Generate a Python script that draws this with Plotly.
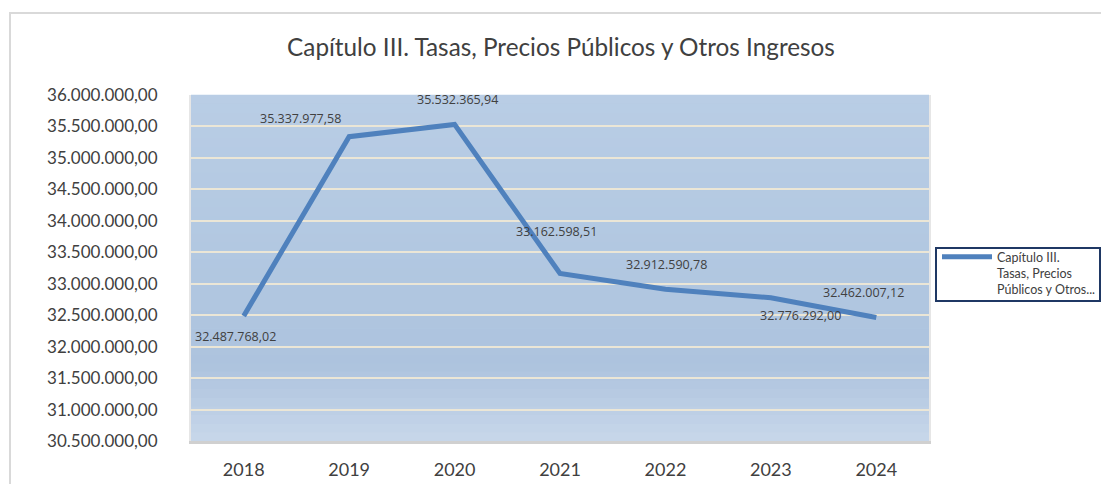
import plotly.graph_objects as go

# ---- data ----
years = ["2018", "2019", "2020", "2021", "2022", "2023", "2024"]
values = [32487768.02, 35337977.58, 35532365.94, 33162598.51,
          32912590.78, 32776292.00, 32462007.12]
y_tick_values = [30500000, 31000000, 31500000, 32000000, 32500000, 33000000,
                 33500000, 34000000, 34500000, 35000000, 35500000, 36000000]
series_name = "Capítulo III.<br>Tasas, Precios<br>Públicos y Otros..."
title_text = "Capítulo III. Tasas, Precios Públicos y Otros Ingresos"

# label offsets in pixels (style only)
label_dx = [-8, -49, 3, -4, 1, 30, -13]
label_dy = [-21, 18, 25, 42, 25, -18, 25]

W, H = 1101, 484
L, R, T, B = 191, W - 929, 95, H - 441
pw, ph = W - L - R, H - T - B


def px_to_paper_x(px):
    return (px - L) / pw


def px_to_paper_y(py):
    return (H - B - py) / ph


def fmt_es(v):
    s = f"{v:,.2f}"
    return s.replace(",", "X").replace(".", ",").replace("X", ".")


fig = go.Figure()
fig.add_trace(go.Scatter(
    x=years, y=values, mode="lines", name=series_name,
    line=dict(color="#4f81bd", width=5),
    showlegend=True, hoverinfo="skip",
))

# gradient background bands (style)
def hex2rgb(h):
    h = h.lstrip("#")
    return tuple(int(h[i:i + 2], 16) for i in (0, 2, 4))


stops = [(0.0, "#c8d7ea"), (0.22, "#adc3de"), (0.55, "#b2c8e1"), (1.0, "#b9cde5")]
nb = 40
for i in range(nb):
    fr = (i + 0.5) / nb
    col = stops[-1][1]
    for j in range(len(stops) - 1):
        if stops[j][0] <= fr <= stops[j + 1][0]:
            a0, c0 = stops[j]
            a1, c1 = stops[j + 1]
            tt = (fr - a0) / (a1 - a0)
            r0, g0, b0 = hex2rgb(c0)
            r1, g1, b1 = hex2rgb(c1)
            col = "rgb(%d,%d,%d)" % (round(r0 + (r1 - r0) * tt),
                                     round(g0 + (g1 - g0) * tt),
                                     round(b0 + (b1 - b0) * tt))
            break
    fig.add_shape(type="rect", xref="x domain", yref="y domain",
                  x0=0, x1=1, y0=i / nb, y1=(i + 1) / nb + 0.001,
                  fillcolor=col, line=dict(width=0), layer="below")

# outer chart border
fig.add_shape(type="rect", xref="paper", yref="paper",
              x0=px_to_paper_x(10), x1=px_to_paper_x(W + 10),
              y0=px_to_paper_y(H + 10), y1=px_to_paper_y(13),
              line=dict(color="#d9d9d9", width=2), fillcolor="rgba(0,0,0,0)",
              layer="below")

# legend frame
fig.add_shape(type="rect", xref="paper", yref="paper",
              x0=px_to_paper_x(936), x1=px_to_paper_x(1100),
              y0=px_to_paper_y(301), y1=px_to_paper_y(248),
              line=dict(color="#1f3864", width=2), fillcolor="white",
              layer="below")

# data labels (category axis: x given as category index)
for idx, (v, dx, dy) in enumerate(zip(values, label_dx, label_dy)):
    fig.add_annotation(
        x=idx, y=v, xref="x", yref="y",
        text=fmt_es(v),
        showarrow=False, xshift=dx, yshift=dy,
        font=dict(family="Open Sans", size=12.5, color="#404040"),
    )

fig.update_layout(
    width=W, height=H,
    margin=dict(l=L, r=R, t=T, b=B, pad=0, autoexpand=False),
    paper_bgcolor="white",
    plot_bgcolor="#b4c9e2",
    separators=",.",
    title=dict(text=title_text, x=561 / W, xanchor="center",
               y=1 - 47 / H, yanchor="middle",
               font=dict(family="Lato", size=24.3, color="#404040")),
    font=dict(family="Lato", color="#404040"),
    showlegend=True,
    legend=dict(
        x=px_to_paper_x(937), y=px_to_paper_y(242),
        xanchor="left", yanchor="top",
        bgcolor="rgba(0,0,0,0)", borderwidth=0,
        font=dict(family="Lato", size=12.5, color="#404040"),
        valign="top",
        itemwidth=50,
    ),
    xaxis=dict(
        type="category", categoryorder="array", categoryarray=years,
        range=[-0.5, len(years) - 0.5], automargin=False,
        showgrid=False, zeroline=False,
        showline=True, linecolor="#d0d0d0", linewidth=3,
        ticks="outside", ticklen=10, tickcolor="rgba(0,0,0,0)",
        tickfont=dict(family="Lato", size=18, color="#404040"),
    ),
    yaxis=dict(
        range=[30500000, 36000000], automargin=False,
        tickvals=y_tick_values, tickformat=",.2f",
        showgrid=True, gridcolor="#ebe6d6", gridwidth=2,
        zeroline=False,
        showline=True, linecolor="#e6e6e6", linewidth=2, mirror=True,
        ticks="outside", ticklen=28, tickcolor="rgba(0,0,0,0)",
        tickfont=dict(family="Lato", size=17, color="#404040"),
    ),
)

fig.write_html("out.html", config={"displayModeBar": False},
               post_script="document.body.style.margin='0';document.body.style.overflow='hidden';")
